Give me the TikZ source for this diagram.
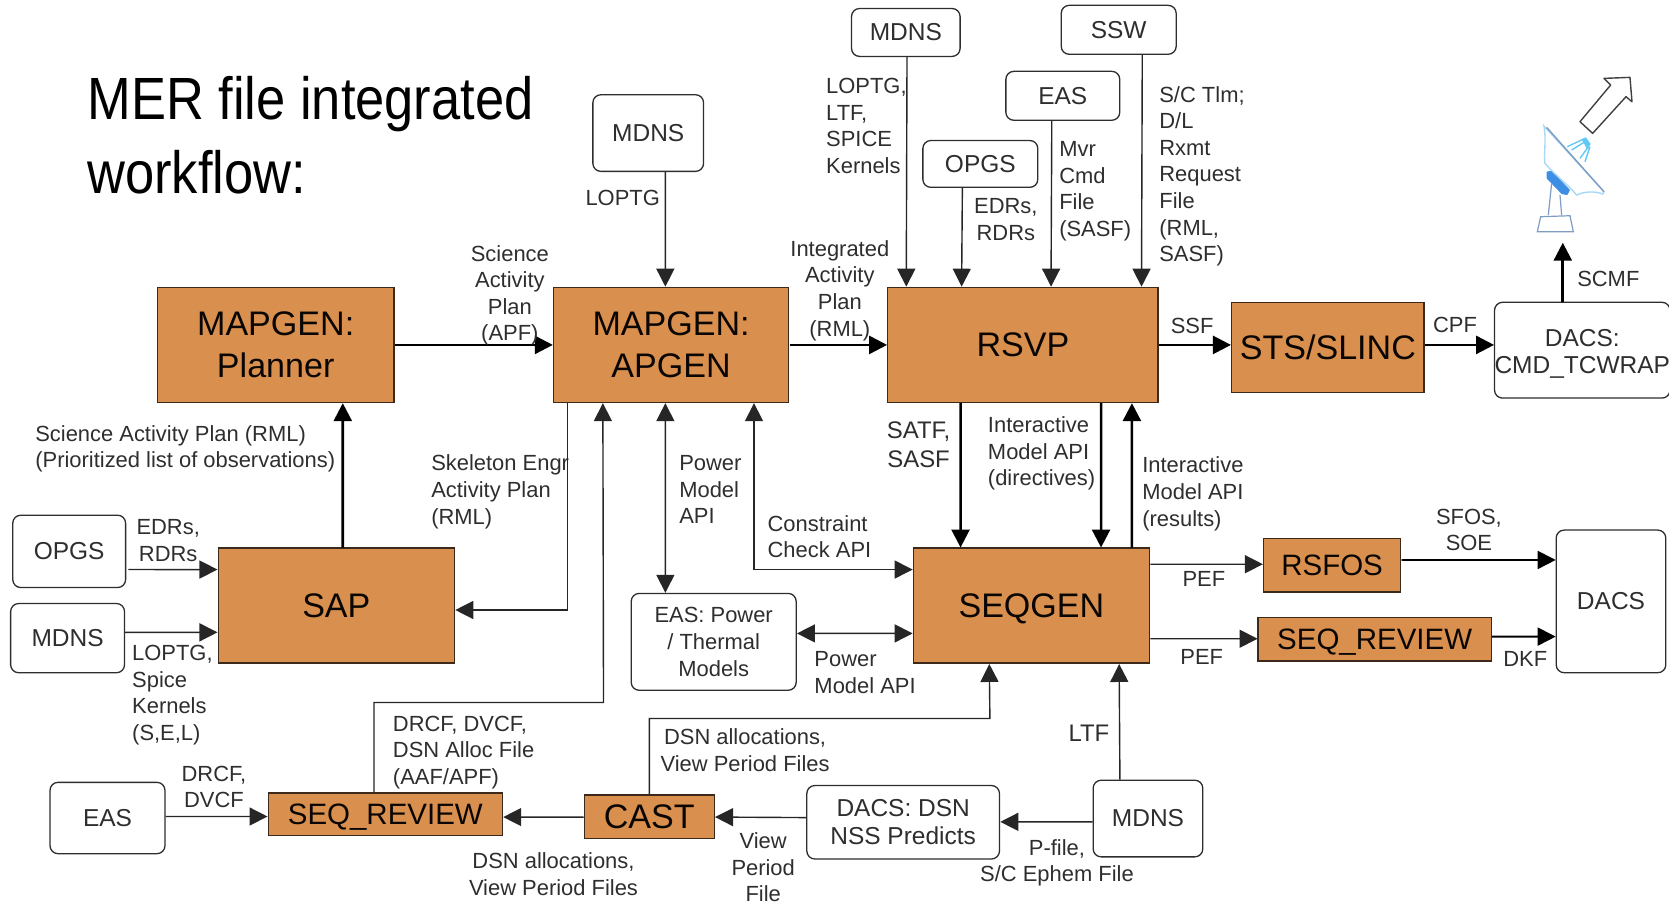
\documentclass[tikz,border=0pt]{standalone}
\usepackage{fontspec}
\setmainfont{Liberation Sans}
\newfontfamily\titlefont[FakeStretch=0.88]{Liberation Sans}
\usetikzlibrary{arrows.meta,calc}
\newcommand{\nodepth}[1]{\raisebox{0pt}[\height][0pt]{#1}}
\definecolor{boxfill}{HTML}{D98F4E}
\definecolor{boxline}{HTML}{3B2A1C}
\definecolor{ink}{HTML}{2E2E2E}
\definecolor{dishdark}{HTML}{7F9CC4}
\definecolor{dishlight}{HTML}{A9D8F5}
\definecolor{dishblue}{HTML}{3D8FE6}
\definecolor{feedblue}{HTML}{62C8F5}
\tikzset{
  every node/.style={transform shape},
  obox/.style={draw=boxline,fill=boxfill,line width=1.4pt,inner sep=0pt,align=center,text=black!85!boxline,font=\fontsize{32}{37}\selectfont},
  obsmall/.style={obox,font=\fontsize{27.7}{33}\selectfont},
  rbox/.style={draw=ink,fill=white,rounded corners=8pt,line width=1.3pt,inner sep=0pt,align=center,text=ink,font=\fontsize{23}{25}\selectfont},
  lab/.style={inner sep=0pt,text=ink,align=left,font=\fontsize{20.6}{25}\selectfont},
  labc/.style={lab,align=center},
  labb/.style={lab,align=center,font=\fontsize{22.5}{27}\selectfont},
  thk/.style={draw=black,line width=2.6pt,-{Triangle[length=18pt,width=18pt]}},
  thn/.style={draw=black!85,line width=1.4pt,-{Triangle[length=18pt,width=18pt]}},
  thnb/.style={thn,{Triangle[length=18pt,width=18pt]}-{Triangle[length=18pt,width=18pt]}}
}
\begin{document}
\begin{tikzpicture}[x=1pt,y=-1pt,scale=1.0644]
\useasboundingbox (0,0) rectangle (1568,849);
% title
\node[inner sep=0pt,anchor=west,align=left,text=black,font=\titlefont\fontsize{56}{68.6}\selectfont] (title) at (82,127) {MER file integrated\\workflow:};
% orange boxes
\node[obox,minimum width=222,minimum height=108] (planner) at (259,324) {MAPGEN:\\[2pt]Planner};
\node[obox,minimum width=221,minimum height=108] (apgen) at (630.5,324) {MAPGEN:\\[2pt]APGEN};
\node[obox,minimum width=254,minimum height=108] (rsvp) at (961,324) {RSVP};
\node[obox,minimum width=181,minimum height=85] (sts) at (1247.5,326.5) {STS/SLINC};
\node[obox,minimum width=222,minimum height=108] (sap) at (316,569) {SAP};
\node[obox,minimum width=222,minimum height=108] (seqgen) at (969,569) {\nodepth{SEQGEN}};
\node[obsmall,minimum width=129,minimum height=50] (rsfos) at (1251.5,531) {RSFOS};
\node[obsmall,minimum width=219,minimum height=41] (seqrevb) at (1291.5,600.5) {\nodepth{SEQ\_REVIEW}};
\node[obsmall,minimum width=220,minimum height=40] (seqreva) at (362,765) {\nodepth{SEQ\_REVIEW}};
\node[obox,minimum width=122,minimum height=41] (cast) at (610,767.5) {CAST};
% rounded boxes
\node[rbox,minimum width=163,minimum height=90] (dacsa) at (1486.5,329) {\rule{0pt}{23pt}DACS:\\[1pt]CMD\_TCWRAP};
\node[rbox,minimum width=103,minimum height=134] (dacsb) at (1513.5,565) {DACS};
\node[rbox,minimum width=108,minimum height=67] (easl) at (101,768.5) {EAS};
\node[rbox,minimum width=106,minimum height=68] (opgsl) at (65,518) {OPGS};
\node[rbox,minimum width=107,minimum height=65] (mdnsl) at (63.5,599.5) {MDNS};
\node[rbox,minimum width=155,minimum height=91,font=\fontsize{20.6}{25}\selectfont] (easp) at (670.5,603) {EAS: Power\\/ Thermal\\Models};
\node[rbox,minimum width=181,minimum height=69] (dsn) at (848.5,772.5) {DACS: DSN\\[1pt]NSS Predicts};
\node[rbox,minimum width=103,minimum height=72] (mdnsb) at (1078.5,769) {MDNS};
\node[rbox,minimum width=104,minimum height=72] (mdnsc) at (609,125) {MDNS};
\node[rbox,minimum width=102,minimum height=45] (mdnst) at (851,30.5) {MDNS};
\node[rbox,minimum width=108,minimum height=46] (ssw) at (1051,28) {SSW};
\node[rbox,minimum width=107,minimum height=46] (east) at (998.5,90) {EAS};
\node[rbox,minimum width=108,minimum height=44] (opgst) at (921,154) {OPGS};
% thick connectors
\draw[thk] (planner.east) -- (apgen.west);
\draw[thk] (apgen.east) -- (rsvp.west);
\draw[thk] (rsvp.east) -- (rsvp.east -| sts.west);
\draw[thk] (sts.east |- rsvp.east) -- (dacsa.west |- rsvp.east);
\draw[thk] ($(sap.north)+(6,0)$) -- ($(planner.south)+(63,0)$);
\draw[thk] ($(rsvp.south west)+(69,0)$) -- ($(seqgen.north west)+(45,0)$);
\draw[thk] ($(rsvp.south west)+(201,0)$) -- ($(seqgen.north west)+(177,0)$);
\draw[thk] ($(seqgen.north west)+(206,0)$) -- ($(rsvp.south west)+(230,0)$);
\coordinate (dishfoot) at (1468,228);
\draw[thk] (dishfoot |- dacsa.north) -- (dishfoot);
% thin connectors, top row
\draw[thn] ($(mdnsc.south)+(16,0)$) -- ($(apgen.north)+(-5.5,0)$);
\draw[thn] ($(mdnst.south)+(1,0)$) -- ($(rsvp.north west)+(18,0)$);
\draw[thn] ($(opgst.south)+(-17,0)$) -- ($(rsvp.north west)+(70,0)$);
\draw[thn] ($(east.south)+(-10.5,0)$) -- ($(rsvp.north west)+(154,0)$);
\draw[thn] ($(ssw.south)+(22,0)$) -- ($(rsvp.north west)+(239,0)$);
% left
\draw[thn] ($(opgsl.east)+(2,17)$) -- ($(sap.west)+(0,-34)$);
\draw[thn] ($(mdnsl.east)+(0,-5.5)$) -- ($(sap.west)+(0,25)$);
\draw[thn] ($(apgen.south west)+(14,0)$) |- ($(sap.east)+(0,4)$);
\draw[thn] ($(seqreva.north west)+(100,0)$) |- (567,660) -- ($(apgen.south west)+(47,0)$);
% centre
\draw[thnb] ($(apgen.south)+(-5.5,0)$) -- ($(easp.north)+(-45.5,0)$);
\draw[thnb] ($(apgen.south west)+(189,0)$) |- ($(seqgen.west)+(0,-34)$);
\draw[thnb] ($(easp.east)+(0,-8)$) -- ($(seqgen.west)+(0,26)$);
% right
\draw[thn] ($(seqgen.east)+(0,-39)$) -- ($(rsfos.west)+(0,-1)$);
\draw[thn] ($(seqgen.east)+(0,31)$) -- ($(seqrevb.west)+(0,-0.5)$);
\draw[thk,line width=1.8pt] ($(rsfos.east)+(0,-5)$) -- ($(dacsb.west)+(0,-39)$);
\draw[thk,line width=1.8pt] ($(seqrevb.east)+(0,-2.5)$) -- ($(dacsb.west)+(0,33)$);
% bottom
\draw[thn] ($(mdnsb.north)+(-26.5,0)$) -- ($(seqgen.south west)+(194,0)$);
\draw[thn] ($(cast.north)$) |- (930,675) -- ($(seqgen.south west)+(72,0)$);
\draw[thn] ($(mdnsb.west)+(0,3)$) -- ($(dsn.east)+(0,-0.5)$);
\draw[thn] ($(dsn.west)+(0,-4.5)$) -- ($(cast.east)+(0,0)$);
\draw[thn] (cast.west) -- ($(seqreva.east)+(0,2.5)$);
\draw[thn] ($(easl.east)+(0,-1.5)$) -- ($(seqreva.west)+(0,2)$);
% labels
\node[labc] (l1) at (479,277.5) {Science\\Activity\\Plan\\(APF)};
\node[labc] (l2) at (585,186) {LOPTG};
\node[labc] (l3) at (789,273) {Integrated\\Activity\\Plan\\(RML)};
\node[lab,anchor=west] (l4) at (776,118.5) {LOPTG,\\LTF,\\SPICE\\Kernels};
\node[labc] (l5) at (945,206) {EDRs,\\RDRs};
\node[lab,anchor=west] (l6) at (995,179.5) {Mvr\\Cmd\\File\\(SASF)};
\node[lab,anchor=west] (l7) at (1089,165.5) {S/C Tlm;\\D/L\\Rxmt\\Request\\File\\(RML,\\SASF)};
\node[labc] (l8) at (1120,306) {SSF};
\node[labc] (l9) at (1367,305) {CPF};
\node[labc] (l10) at (1511,262) {SCMF};
\node[lab,anchor=west] (l11) at (33,421.5) {Science Activity Plan (RML)\\(Prioritized list of observations)};
\node[lab,anchor=west] (l12) at (405,462) {Skeleton Engr\\Activity Plan\\(RML)};
\node[labc] (l13) at (158,508) {EDRs,\\RDRs};
\node[lab,anchor=west] (l14) at (124,653) {LOPTG,\\Spice\\Kernels\\(S,E,L)};
\node[lab,anchor=west] (l15) at (638,460) {Power\\Model\\API};
\node[lab,anchor=west] (l16) at (721,504) {Constraint\\Check API};
\node[labb] (l17) at (863,418) {SATF,\\SASF};
\node[lab,anchor=west] (l18) at (928,426) {Interactive\\Model API\\(directives)};
\node[lab,anchor=west] (l19) at (1073,464) {Interactive\\Model API\\(results)};
\node[labc] (l20) at (1380,498) {SFOS,\\SOE};
\node[labc] (l21) at (1131,544) {PEF};
\node[labc] (l22) at (1129,617) {PEF};
\node[labc] (l23) at (1433,619) {DKF};
\node[lab,anchor=west] (l24) at (765,632) {Power\\Model API};
\node[labb] (l25) at (1023,689) {LTF};
\node[labc] (l26) at (700,704.5) {DSN allocations,\\View Period Files};
\node[lab,anchor=west] (l27) at (369,707) {DRCF, DVCF,\\DSN Alloc File\\(AAF/APF)};
\node[labc] (l28) at (201,739.5) {DRCF,\\DVCF};
\node[labc] (l29) at (520,821) {DSN allocations,\\View Period Files};
\node[labc] (l30) at (717,815) {View\\Period\\File};
\node[labc] (l31) at (993,810.5) {P-file,\\S/C Ephem File};
% antenna and outgoing arrow (coordinates follow the crop of the reference)
\begin{scope}[shift={(1390.4,47)},x=0.3132pt,y=-0.3132pt]
  \draw[draw=black!75,line width=1.4pt,line join=round,fill=white]
    (450,82) -- (372,85) -- (392,105) -- (300,215) -- (338,250) -- (438,140) -- (456,155) -- cycle;
  \draw[dishdark,line width=1.2pt,fill=white] (182,500) -- (270,497) -- (280,545) -- (172,545) -- cycle;
  \draw[dishdark,line width=1.2pt] (215,400) -- (205,495) (240,435) -- (245,495);
  \fill[dishblue] (200,365) -- (215,362) -- (270,420) -- (262,435) -- (245,432) -- (200,385) -- cycle;
  \draw[feedblue,line width=1.4pt] (262,290) -- (315,265) (275,300) -- (315,275) (300,325) -- (325,290) (315,335) -- (330,290);
  \fill[feedblue] (305,268) -- (318,262) -- (332,282) -- (322,298) -- cycle;
  \draw[dishlight,line width=1.4pt,fill=white] (192,228) .. controls (200,280) and (190,310) .. (195,340)
     .. controls (225,375) and (265,405) .. (290,435) .. controls (310,425) and (345,422) .. (368,432) -- (372,425) -- cycle;
  \draw[dishdark,line width=1.4pt] (200,232) -- (372,425);
\end{scope}
\end{tikzpicture}
\end{document}
